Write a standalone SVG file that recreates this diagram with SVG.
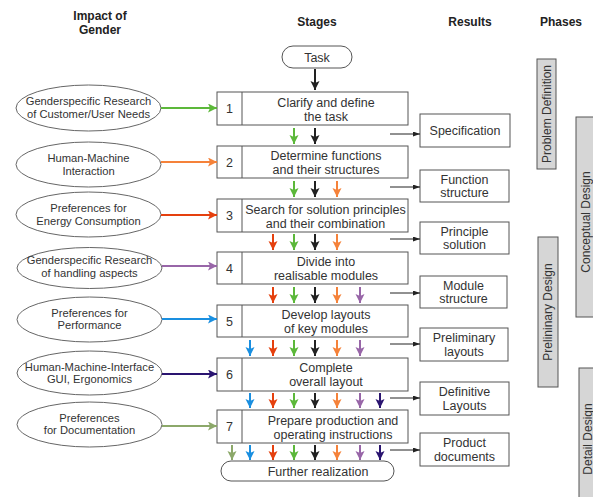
<svg xmlns="http://www.w3.org/2000/svg" width="593" height="497" viewBox="0 0 593 497">
<style>
text{font-family:"Liberation Sans",Arial,sans-serif;fill:#333;font-size:12.5px}
.h{font-weight:bold;fill:#222;font-size:12px}
.e{font-size:11.2px}
.pt{font-size:12px}
.m{text-anchor:middle}
.box{fill:#fff;stroke:#555;stroke-width:1}
.ph{fill:#d6d6d6;stroke:#555;stroke-width:1}
.ell{fill:#fff;stroke:#666;stroke-width:1}
.a{fill:none;stroke-width:2}
.r{stroke:#222;stroke-width:1;fill:none;marker-end:url(#mr)}
.cg{stroke:#5cb83a;marker-end:url(#mg)}
.ck{stroke:#222;marker-end:url(#mk)}
.co{stroke:#f5823a;marker-end:url(#mo)}
.cr{stroke:#e5400e;marker-end:url(#mred)}
.cp{stroke:#9866a8;marker-end:url(#mp)}
.cb{stroke:#1a8fe0;marker-end:url(#mb)}
.ci{stroke:#2a1470;marker-end:url(#mi)}
.cv{stroke:#8ca86a;marker-end:url(#mv)}
</style>
<defs>
<marker id="mg" markerUnits="userSpaceOnUse" markerWidth="10" markerHeight="10" refX="9" refY="4.5" orient="auto"><path d="M0,0L9,4.5L0,9L2,4.5z" fill="#5cb83a"/></marker>
<marker id="mk" markerUnits="userSpaceOnUse" markerWidth="10" markerHeight="10" refX="9" refY="4.5" orient="auto"><path d="M0,0L9,4.5L0,9L2,4.5z" fill="#222"/></marker>
<marker id="mo" markerUnits="userSpaceOnUse" markerWidth="10" markerHeight="10" refX="9" refY="4.5" orient="auto"><path d="M0,0L9,4.5L0,9L2,4.5z" fill="#f5823a"/></marker>
<marker id="mred" markerUnits="userSpaceOnUse" markerWidth="10" markerHeight="10" refX="9" refY="4.5" orient="auto"><path d="M0,0L9,4.5L0,9L2,4.5z" fill="#e5400e"/></marker>
<marker id="mp" markerUnits="userSpaceOnUse" markerWidth="10" markerHeight="10" refX="9" refY="4.5" orient="auto"><path d="M0,0L9,4.5L0,9L2,4.5z" fill="#9866a8"/></marker>
<marker id="mb" markerUnits="userSpaceOnUse" markerWidth="10" markerHeight="10" refX="9" refY="4.5" orient="auto"><path d="M0,0L9,4.5L0,9L2,4.5z" fill="#1a8fe0"/></marker>
<marker id="mi" markerUnits="userSpaceOnUse" markerWidth="10" markerHeight="10" refX="9" refY="4.5" orient="auto"><path d="M0,0L9,4.5L0,9L2,4.5z" fill="#2a1470"/></marker>
<marker id="mv" markerUnits="userSpaceOnUse" markerWidth="10" markerHeight="10" refX="9" refY="4.5" orient="auto"><path d="M0,0L9,4.5L0,9L2,4.5z" fill="#8ca86a"/></marker>
<marker id="mr" markerUnits="userSpaceOnUse" markerWidth="8" markerHeight="6" refX="7" refY="2.5" orient="auto"><path d="M0,0L7,2.5L0,5z" fill="#222"/></marker>
</defs>

<g id="headers">
<text class="h m" x="100" y="20">Impact of</text>
<text class="h m" x="100" y="34">Gender</text>
<text class="h m" x="317" y="26">Stages</text>
<text class="h m" x="470" y="26">Results</text>
<text class="h m" x="561" y="26">Phases</text>
</g>

<g id="task"><rect class="box" x="282" y="46" width="70" height="22" rx="11"/><text class="m" x="317" y="61.5">Task</text></g>

<g id="stage1"><rect class="box" x="217" y="92" width="191" height="33"/><line x1="242" y1="92" x2="242" y2="125" stroke="#555"/><text class="m" x="229.5" y="113">1</text><text class="m" x="326" y="106.5">Clarify and define</text><text class="m" x="326" y="120.5">the task</text></g>
<g id="stage2"><rect class="box" x="217" y="146" width="191" height="32"/><line x1="242" y1="146" x2="242" y2="178" stroke="#555"/><text class="m" x="229.5" y="166.5">2</text><text class="m" x="326" y="160">Determine functions</text><text class="m" x="326" y="174">and their structures</text></g>
<g id="stage3"><rect class="box" x="217" y="199" width="191" height="33"/><line x1="242" y1="199" x2="242" y2="232" stroke="#555"/><text class="m" x="229.5" y="220">3</text><text class="m" x="325.5" y="213.5">Search for solution principles</text><text class="m" x="325.5" y="227.5">and their combination</text></g>
<g id="stage4"><rect class="box" x="217" y="252" width="191" height="32"/><line x1="242" y1="252" x2="242" y2="284" stroke="#555"/><text class="m" x="229.5" y="272.5">4</text><text class="m" x="326" y="266">Divide into</text><text class="m" x="326" y="280">realisable modules</text></g>
<g id="stage5"><rect class="box" x="217" y="305" width="191" height="32"/><line x1="242" y1="305" x2="242" y2="337" stroke="#555"/><text class="m" x="229.5" y="325.5">5</text><text class="m" x="326" y="319">Develop layouts</text><text class="m" x="326" y="333">of key modules</text></g>
<g id="stage6"><rect class="box" x="217" y="358" width="191" height="33"/><line x1="242" y1="358" x2="242" y2="391" stroke="#555"/><text class="m" x="229.5" y="379">6</text><text class="m" x="326" y="372">Complete</text><text class="m" x="326" y="386">overall layout</text></g>
<g id="stage7"><rect class="box" x="217" y="410" width="191" height="33"/><line x1="242" y1="410" x2="242" y2="443" stroke="#555"/><text class="m" x="333" y="424.5">Prepare production and</text><text class="m" x="333" y="438.5">operating instructions</text><text class="m" x="229.5" y="431">7</text></g>
<g id="further"><rect class="box" x="221" y="461" width="173" height="20" rx="10"/><text class="m" x="318" y="475.5">Further realization</text></g>

<g id="impact1"><ellipse class="ell" cx="88.5" cy="108" rx="72.5" ry="23"/><text class="e m" x="88.5" y="105">Genderspecific Research</text><text class="e m" x="88.5" y="117.5">of Customer/User Needs</text></g>
<g id="impact2"><ellipse class="ell" cx="88.5" cy="164.5" rx="72.5" ry="22.5"/><text class="e m" x="88.5" y="161.5">Human-Machine</text><text class="e m" x="88.5" y="175">Interaction</text></g>
<g id="impact3"><ellipse class="ell" cx="88.5" cy="214.5" rx="72.5" ry="22.5"/><text class="e m" x="88.5" y="212">Preferences for</text><text class="e m" x="88.5" y="224.5">Energy Consumption</text></g>
<g id="impact4"><ellipse class="ell" cx="89.5" cy="268" rx="72.5" ry="20.5"/><text class="e m" x="89.5" y="264">Genderspecific Research</text><text class="e m" x="89.5" y="276.5">of handling aspects</text></g>
<g id="impact5"><ellipse class="ell" cx="89.5" cy="319.5" rx="72.5" ry="22.5"/><text class="e m" x="89.5" y="316.5">Preferences for</text><text class="e m" x="89.5" y="329">Performance</text></g>
<g id="impact6"><ellipse class="ell" cx="89.5" cy="373" rx="72.5" ry="22"/><text class="e m" x="89.5" y="370.5">Human-Machine-Interface</text><text class="e m" x="89.5" y="383">GUI, Ergonomics</text></g>
<g id="impact7"><ellipse class="ell" cx="89.5" cy="424.5" rx="72.5" ry="22.5"/><text class="e m" x="89.5" y="421.5">Preferences</text><text class="e m" x="89.5" y="434">for Documentation</text></g>

<g id="result1"><rect class="box" x="420" y="114" width="90" height="33"/><text class="m" x="465" y="135">Specification</text></g>
<g id="result2"><rect class="box" x="420" y="170" width="89" height="32"/><text class="m" x="464.5" y="183.5">Function</text><text class="m" x="464.5" y="197">structure</text></g>
<g id="result3"><rect class="box" x="420" y="222" width="89" height="32"/><text class="m" x="464.5" y="235.5">Principle</text><text class="m" x="464.5" y="249">solution</text></g>
<g id="result4"><rect class="box" x="420" y="276" width="87" height="32"/><text class="m" x="463.5" y="289.5">Module</text><text class="m" x="463.5" y="303">structure</text></g>
<g id="result5"><rect class="box" x="420" y="328" width="88" height="33"/><text class="m" x="464" y="342">Preliminary</text><text class="m" x="464" y="355.5">layouts</text></g>
<g id="result6"><rect class="box" x="420" y="382" width="89" height="33"/><text class="m" x="464.5" y="396">Definitive</text><text class="m" x="464.5" y="409.5">Layouts</text></g>
<g id="result7"><rect class="box" x="420" y="433" width="89" height="33"/><text class="m" x="464.5" y="447">Product</text><text class="m" x="464.5" y="460.5">documents</text></g>

<g id="phase-problem"><rect class="ph" x="537" y="59" width="19" height="110"/><text class="pt m" transform="translate(550.5,114) rotate(-90)">Problem Definition</text></g>
<g id="phase-conceptual"><rect class="ph" x="576" y="117" width="30" height="200"/><text class="pt m" transform="translate(589.5,222) rotate(-90)">Conceptual Design</text></g>
<g id="phase-preliminary"><rect class="ph" x="538" y="237" width="20" height="150"/><text class="pt m" transform="translate(551.5,312) rotate(-90)">Prelininary Design</text></g>
<g id="phase-detail"><rect class="ph" x="579" y="368" width="30" height="140"/><text class="pt m" transform="translate(591.5,439) rotate(-90)">Detail Design</text></g>

<g id="connectors">
<line class="a cg" x1="161" y1="108" x2="217" y2="108"/>
<line class="a co" x1="161" y1="162" x2="217" y2="162"/>
<line class="a cr" x1="161" y1="215" x2="217" y2="215"/>
<line class="a cp" x1="162" y1="266" x2="217" y2="266"/>
<line class="a cb" x1="162" y1="319" x2="217" y2="319"/>
<line class="a ci" x1="162" y1="374" x2="217" y2="374"/>
<line class="a cv" x1="162" y1="426" x2="217" y2="426"/>

<line class="a ck" x1="315" y1="69" x2="315" y2="90"/>

<line class="a cg" x1="294" y1="128" x2="294" y2="144"/>
<line class="a ck" x1="315" y1="128" x2="315" y2="144"/>

<line class="a cg" x1="294" y1="181" x2="294" y2="197"/>
<line class="a ck" x1="315" y1="181" x2="315" y2="197"/>
<line class="a co" x1="337" y1="181" x2="337" y2="197"/>

<line class="a cr" x1="273" y1="234" x2="273" y2="250"/>
<line class="a cg" x1="294" y1="234" x2="294" y2="250"/>
<line class="a ck" x1="315" y1="234" x2="315" y2="250"/>
<line class="a co" x1="337" y1="234" x2="337" y2="250"/>

<line class="a cr" x1="273" y1="287" x2="273" y2="303"/>
<line class="a cg" x1="294" y1="287" x2="294" y2="303"/>
<line class="a ck" x1="315" y1="287" x2="315" y2="303"/>
<line class="a co" x1="337" y1="287" x2="337" y2="303"/>
<line class="a cp" x1="360" y1="287" x2="360" y2="303"/>

<line class="a cb" x1="250" y1="340" x2="250" y2="356"/>
<line class="a cr" x1="273" y1="340" x2="273" y2="356"/>
<line class="a cg" x1="294" y1="340" x2="294" y2="356"/>
<line class="a ck" x1="315" y1="340" x2="315" y2="356"/>
<line class="a co" x1="337" y1="340" x2="337" y2="356"/>
<line class="a cp" x1="360" y1="340" x2="360" y2="356"/>

<line class="a cb" x1="250" y1="393" x2="250" y2="408"/>
<line class="a cr" x1="273" y1="393" x2="273" y2="408"/>
<line class="a cg" x1="294" y1="393" x2="294" y2="408"/>
<line class="a ck" x1="315" y1="393" x2="315" y2="408"/>
<line class="a co" x1="337" y1="393" x2="337" y2="408"/>
<line class="a cp" x1="360" y1="393" x2="360" y2="408"/>
<line class="a ci" x1="380" y1="393" x2="380" y2="408"/>

<line class="a cv" x1="232" y1="445" x2="232" y2="460"/>
<line class="a cb" x1="250" y1="445" x2="250" y2="460"/>
<line class="a cr" x1="273" y1="445" x2="273" y2="460"/>
<line class="a cg" x1="294" y1="445" x2="294" y2="460"/>
<line class="a ck" x1="315" y1="445" x2="315" y2="460"/>
<line class="a co" x1="337" y1="445" x2="337" y2="460"/>
<line class="a cp" x1="360" y1="445" x2="360" y2="460"/>
<line class="a ci" x1="380" y1="445" x2="380" y2="460"/>

<line class="r" x1="390" y1="134" x2="420" y2="134"/>
<line class="r" x1="390" y1="187" x2="420" y2="187"/>
<line class="r" x1="390" y1="239" x2="420" y2="239"/>
<line class="r" x1="390" y1="293" x2="420" y2="293"/>
<line class="r" x1="390" y1="344" x2="420" y2="344"/>
<line class="r" x1="390" y1="398" x2="420" y2="398"/>
<line class="r" x1="390" y1="450" x2="420" y2="450"/>
</g>
</svg>
